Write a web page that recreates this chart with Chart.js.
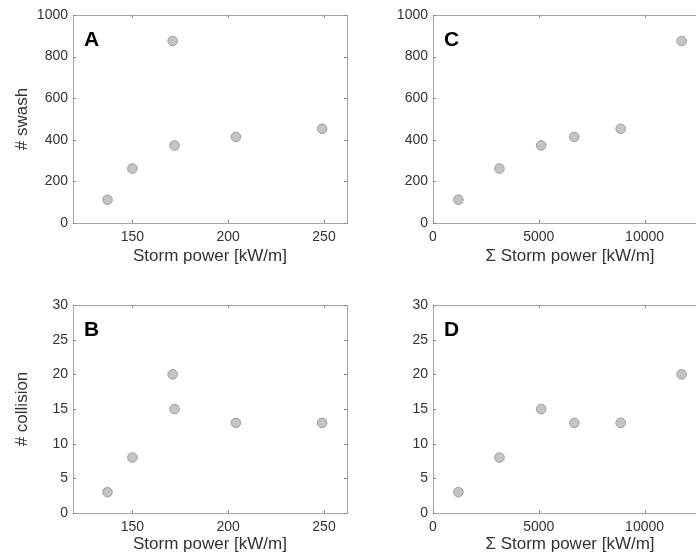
<!DOCTYPE html>
<html>
<head>
<meta charset="utf-8">
<script src="https://cdn.jsdelivr.net/npm/chart.js@4"></script>
<style>
  html, body { margin: 0; padding: 0; background: #fff; }
  body { width: 696px; height: 556px; overflow: hidden; position: relative; }
  .panel { position: absolute; width: 360px; height: 278px; }
</style>
</head>
<body>
<div class="panel" style="left:0;top:0"><canvas id="chartA"></canvas></div>
<div class="panel" style="left:360px;top:0"><canvas id="chartC"></canvas></div>
<div class="panel" style="left:0;top:278px"><canvas id="chartB"></canvas></div>
<div class="panel" style="left:360px;top:278px"><canvas id="chartD"></canvas></div>
<script>
// storm power per event and the cumulative sum
const stormPower = [137, 150, 171, 172, 204, 249];
const stormPowerSum = [1200, 3140, 11750, 5110, 6680, 8870];
const swashCount = [112, 262, 875, 373, 414, 453];
const collisionCount = [3, 8, 20, 15, 13, 13];

const powerTicks = [150, 200, 250];
const powerSumTicks = [0, 5000, 10000];
const swashTicks = [0, 200, 400, 600, 800, 1000];
const collisionTicks = [0, 5, 10, 15, 20, 25, 30];

const FRAME = '#a6a6a6';
const TEXT = '#333';
const FONT = "'Liberation Sans', Arial, sans-serif";

// box around plot area with small inward ticks on all sides (matlab look)
const framePlugin = {
  id: 'frame',
  afterDatasetsDraw(chart, args, opts) {
    const { ctx, chartArea: a, scales } = chart;
    ctx.save();
    ctx.strokeStyle = FRAME;
    ctx.lineWidth = 1;
    ctx.strokeRect(Math.round(a.left) + 0.5, Math.round(a.top) + 0.5,
      Math.round(a.right - a.left), Math.round(a.bottom - a.top));
    ctx.strokeStyle = '#888';
    ctx.beginPath();
    scales.x.ticks.forEach(t => {
      const px = Math.round(scales.x.getPixelForValue(t.value)) + 0.5;
      ctx.moveTo(px, a.bottom); ctx.lineTo(px, a.bottom - 3);
      ctx.moveTo(px, a.top); ctx.lineTo(px, a.top + 3);
    });
    scales.y.ticks.forEach(t => {
      const py = Math.round(scales.y.getPixelForValue(t.value)) + 0.5;
      ctx.moveTo(a.left, py); ctx.lineTo(a.left + 3, py);
      ctx.moveTo(a.right, py); ctx.lineTo(a.right - 3, py);
    });
    ctx.stroke();
    // panel letter
    ctx.fillStyle = '#000';
    ctx.font = "bold 21px " + FONT;
    ctx.textBaseline = 'alphabetic';
    ctx.fillText(opts.letter, a.left + 11, a.top + 31);
    ctx.restore();
  }
};

function makePanel(id, letter, xs, ys, xMin, xMax, xTicks, yMax, yTicks, xTitle, yTitle, isTop) {
  const ctx = document.getElementById(id).getContext('2d');
  return new Chart(ctx, {
    type: 'scatter',
    data: {
      datasets: [{
        data: xs.map((x, i) => ({ x: x, y: ys[i] })),
        pointRadius: 4.8,
        pointBackgroundColor: '#c4c4c4',
        pointBorderColor: '#9c9c9c',
        pointBorderWidth: 1
      }]
    },
    options: {
      responsive: false,
      animation: false,
      devicePixelRatio: 1,
      layout: { padding: { top: isTop ? 15 : 27, right: 13, left: 0, bottom: 0 } },
      plugins: { legend: { display: false }, tooltip: { enabled: false }, frame: { letter: letter } },
      scales: {
        x: {
          type: 'linear', min: xMin, max: xMax,
          afterBuildTicks: s => { s.ticks = xTicks.map(v => ({ value: v })); },
          afterFit: s => { s.height = isTop ? 55 : 43; },
          grid: { display: false, drawTicks: false },
          border: { display: false },
          ticks: { color: TEXT, padding: 6, font: { family: FONT, size: 14 }, maxRotation: 0, callback: v => String(v) },
          title: { display: true, text: xTitle, color: TEXT, padding: { top: 0, bottom: isTop ? 11 : 1 }, font: { family: FONT, size: 17 } }
        },
        y: {
          type: 'linear', min: 0, max: yMax,
          afterBuildTicks: s => { s.ticks = yTicks.map(v => ({ value: v })); },
          afterFit: s => { s.width = 73; },
          grid: { display: false, drawTicks: false },
          border: { display: false },
          ticks: { color: TEXT, padding: 5, font: { family: FONT, size: 14 }, callback: v => String(v) },
          title: { display: !!yTitle, text: yTitle, color: TEXT, padding: { top: 12, bottom: 0 }, font: { family: FONT, size: 17 } }
        }
      }
    },
    plugins: [framePlugin]
  });
}

const canvasIds = ['chartA', 'chartB', 'chartC', 'chartD'];
canvasIds.forEach(id => {
  const c = document.getElementById(id);
  c.width = 360; c.height = 278;
  c.style.width = '360px'; c.style.height = '278px';
});

makePanel('chartA', 'A', stormPower, swashCount, 119, 262, powerTicks, 1000, swashTicks, 'Storm power [kW/m]', '# swash', true);
makePanel('chartC', 'C', stormPowerSum, swashCount, 0, 12950, powerSumTicks, 1000, swashTicks, '\u03a3 Storm power [kW/m]', '', true);
makePanel('chartB', 'B', stormPower, collisionCount, 119, 262, powerTicks, 30, collisionTicks, 'Storm power [kW/m]', '# collision', false);
makePanel('chartD', 'D', stormPowerSum, collisionCount, 0, 12950, powerSumTicks, 30, collisionTicks, '\u03a3 Storm power [kW/m]', '', false);
</script>
</body>
</html>
